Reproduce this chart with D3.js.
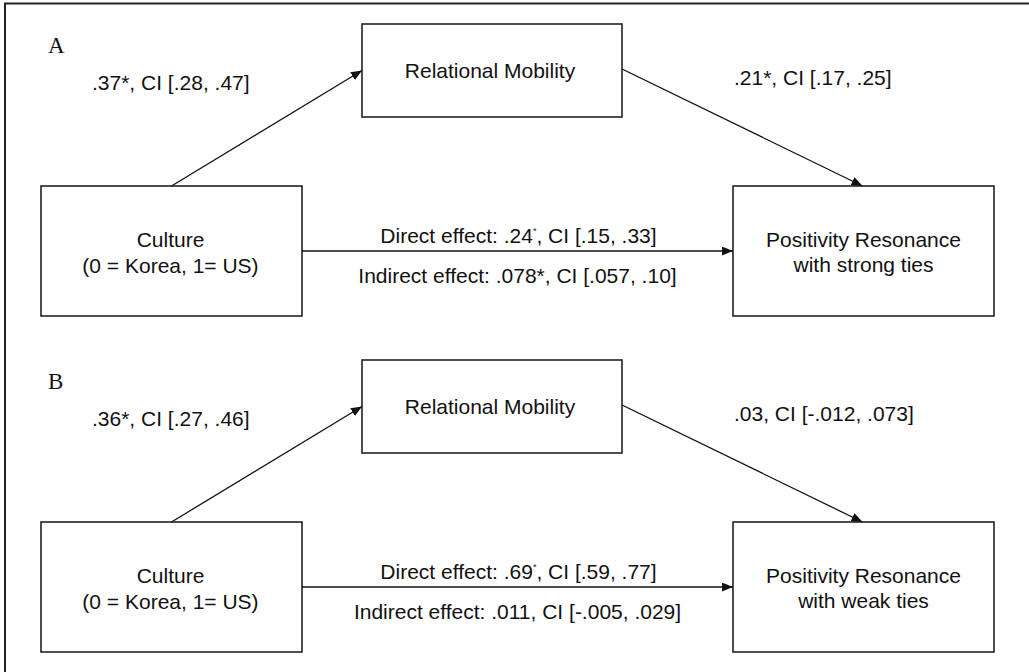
<!DOCTYPE html>
<html>
<head>
<meta charset="utf-8">
<script src="https://cdn.jsdelivr.net/npm/d3@7"></script>
<style>
  body { margin: 0; background: #fff; }
  svg text { font-family: Arial, "Liberation Sans", sans-serif; fill: #111; }
</style>
</head>
<body>
<div id="chart"></div>
<script>
const W = 1029, H = 672;

// panel data
const panels = ['A', 'B'];
const predictorLabel = ['Culture', '(0 = Korea, 1= US)'];
const mediatorLabel = 'Relational Mobility';
const outcomeLabels = [
    ['Positivity Resonance', 'with strong ties'],
    ['Positivity Resonance', 'with weak ties']
];
const pathA = ['.37*, CI [.28, .47]', '.36*, CI [.27, .46]'];
const pathB = ['.21*, CI [.17, .25]', '.03, CI [-.012, .073]'];
const directEffect = ['.24*, CI [.15, .33]', '.69*, CI [.59, .77]'];
const indirectEffect = ['.078*, CI [.057, .10]', '.011, CI [-.005, .029]'];

const svg = d3.select('#chart').append('svg').attr('width', W).attr('height', H);

svg.append('defs').append('marker')
    .attr('id', 'head')
    .attr('markerUnits', 'userSpaceOnUse')
    .attr('markerWidth', 11).attr('markerHeight', 9)
    .attr('refX', 11).attr('refY', 4.5)
    .attr('orient', 'auto')
    .append('path').attr('d', 'M0,0 L11,4.5 L0,9 Z').attr('fill', '#111');

// frame (only top and left edges show in the crop)
svg.append('path')
    .attr('d', `M5,${H} L5,3.5 L${W},3.5`)
    .attr('fill', 'none').attr('stroke', '#222').attr('stroke-width', 2);

const panelY = d3.scaleOrdinal().domain(panels).range([0, 336]);

// box layout inside one panel
const boxes = {
    x: { x0: 41, x1: 302, y0: 186, y1: 316 },
    m: { x0: 362, x1: 622, y0: 24, y1: 117 },
    y: { x0: 733, x1: 994, y0: 186, y1: 316 }
};
const cx = b => (b.x0 + b.x1) / 2;
const cy = b => (b.y0 + b.y1) / 2;

const g = svg.selectAll('g.panel')
    .data(panels.map((p, i) => ({
        p, i,
        outcome: outcomeLabels[i],
        a: pathA[i], b: pathB[i],
        direct: directEffect[i], indirect: indirectEffect[i]
    })))
    .enter().append('g')
    .attr('class', 'panel')
    .attr('transform', d => `translate(0, ${panelY(d.p)})`);

// panel letter
g.append('text')
    .attr('x', 48).attr('y', 53)
    .style('font-family', '"Liberation Serif", "Times New Roman", serif')
    .attr('font-size', 23)
    .text(d => d.p);

// boxes
Object.values(boxes).forEach(b => {
    g.append('rect')
        .attr('x', b.x0).attr('y', b.y0)
        .attr('width', b.x1 - b.x0).attr('height', b.y1 - b.y0)
        .attr('fill', 'none').attr('stroke', '#222').attr('stroke-width', 1.6);
});

// arrows
const arrow = (x1, y1, x2, y2) => g.append('line')
    .attr('x1', x1).attr('y1', y1).attr('x2', x2).attr('y2', y2)
    .attr('stroke', '#111').attr('stroke-width', 1.3)
    .attr('marker-end', 'url(#head)');

arrow(cx(boxes.x), boxes.x.y0, boxes.m.x0, cy(boxes.m));
arrow(boxes.m.x1, cy(boxes.m) - 1.5, cx(boxes.y) - 1, boxes.y.y0);
arrow(boxes.x.x1, cy(boxes.x), boxes.y.x0, cy(boxes.y));

// box labels
const FS = 21;
function lines(sel, arr, x, y0, lh) {
    const t = sel.append('text').attr('text-anchor', 'middle').attr('font-size', FS);
    arr.forEach((s, k) => t.append('tspan').attr('x', x).attr('y', y0 + k * lh).text(s));
}
g.each(function (d) {
    const s = d3.select(this);
    lines(s, predictorLabel, cx(boxes.x) - 1, cy(boxes.x) - 4, 26);
    lines(s, [mediatorLabel], cx(boxes.m) - 2, cy(boxes.m) + 7.5, 26);
    lines(s, d.outcome, cx(boxes.y), cy(boxes.y) - 4, 25);
});

// path coefficients
g.append('text').attr('x', 92).attr('y', 90).attr('font-size', FS).text(d => d.a);
g.append('text').attr('x', 734).attr('y', 85).attr('font-size', FS).text(d => d.b);

const midC = (boxes.x.x1 + boxes.y.x0) / 2 + 1;
g.each(function (d) {
    const s = d3.select(this);
    const t = s.append('text').attr('x', midC).attr('y', cy(boxes.x) - 8)
        .attr('text-anchor', 'middle').attr('font-size', FS);
    const parts = d.direct.split('*');
    t.append('tspan').text('Direct effect: ' + parts[0]);
    if (parts.length > 1) {
        t.append('tspan').attr('font-size', 9).attr('dy', -9).text('*');
        t.append('tspan').attr('dy', 9).text(parts[1]);
    }
    s.append('text').attr('x', midC - 1).attr('y', cy(boxes.x) + 32)
        .attr('text-anchor', 'middle').attr('font-size', FS)
        .text('Indirect effect: ' + d.indirect);
});
</script>
</body>
</html>
